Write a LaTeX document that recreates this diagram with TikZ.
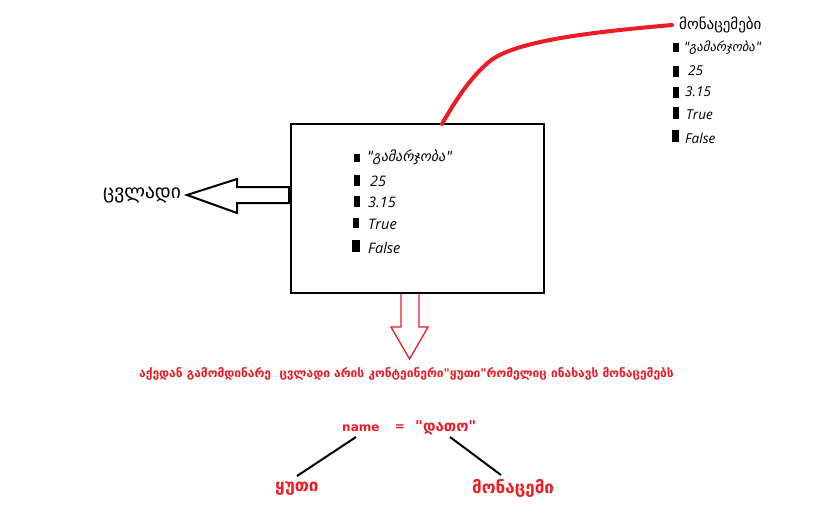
\documentclass[tikz,border=0pt]{standalone}
\usepackage{fontspec}
\setmainfont{Open Sans}
\newfontfamily\geo{DejaVu Sans}
\newfontfamily\geoit[FakeSlant=0.2]{DejaVu Sans}
\definecolor{myred}{RGB}{237,28,36}
\tikzset{
  lbl/.style={inner sep=0pt, anchor=west},
  itm/.style={lbl, font=\fontsize{14.5}{16}\selectfont\itshape},
  ritm/.style={lbl, font=\fontsize{13.6}{15}\selectfont\itshape},
  gitm/.style={lbl, font=\fontsize{14}{16}\selectfont\geoit},
  rgitm/.style={lbl, font=\fontsize{12.7}{15}\selectfont\geoit},
  bul/.style={fill=black},
  redtxt/.style={inner sep=0pt, text=myred, font=\fontsize{12}{14}\selectfont\geo\bfseries},
  conn/.style={line width=2pt},
}
\begin{document}
\begin{tikzpicture}[x=1pt,y=-1pt]
\useasboundingbox[fill=white] (0,0) rectangle (826,522);
% main box
\draw[line width=2pt] (291,124) rectangle (544,293);
\coordinate (boxtop) at (442,124);
% bullets in box
\fill[bul] (354,154) rectangle (360,162);
\fill[bul] (354,175) rectangle (360,186);
\fill[bul] (354,196) rectangle (360,207);
\fill[bul] (353,218) rectangle (359,228);
\fill[bul] (352,240) rectangle (360,252);
\node[gitm] (b1) at (366,157) {"გამარჯობა"};
\node[itm] (b2) at (370,181) {25};
\node[itm] (b3) at (368,202) {3.15};
\node[itm] (b4) at (368,224) {True};
\node[itm] (b5) at (368,248) {False};
% left hollow arrow
\draw[line width=2pt, line join=miter] (290,187) -- (237,187) -- (237,179) -- (187,195) -- (237,213) -- (237,203) -- (290,203);
\draw[line width=4pt] (290,187) -- (290,203);
\node[lbl, font=\fontsize{19.5}{22}\selectfont\geo] (var) at (103,195) {ცვლადი};
% down red hollow arrow
\draw[myred, line width=1.3pt, line join=miter] (401,294) -- (401,327) -- (391,327) -- (409.5,359) -- (428,327) -- (419,327) -- (419,294);
\node[redtxt, anchor=west] (sent) at (139,374) {აქედან გამომდინარე\ \ ცვლადი არის კონტეინერი"ყუთი"რომელიც ინახავს მონაცემებს};
% red curve to data list
\coordinate (dataend) at (672,25);
\draw[myred, line width=4pt, line cap=round] (boxtop) .. controls (458,96) and (472,76) .. (490,61) .. controls (515,42) and (580,33) .. (dataend);
\node[lbl, font=\fontsize{15}{17}\selectfont\geo] (data) at (679,25) {მონაცემები};
\fill[bul] (673,43) rectangle (679,52);
\fill[bul] (673,66) rectangle (679,77);
\fill[bul] (673,87) rectangle (679,98);
\fill[bul] (673,107) rectangle (679,119);
\fill[bul] (672,130) rectangle (679,142);
\node[rgitm] (r1) at (683,48) {"გამარჯობა"};
\node[ritm] (r2) at (688,71) {25};
\node[ritm] (r3) at (685,92) {3.15};
\node[ritm] (r4) at (686,115) {True};
\node[ritm] (r5) at (685,138) {False};
% name = "დათო"
\node[redtxt, anchor=west] (name) at (342,428) {name};
\node[redtxt] (eq) at (400,428) {=};
\node[redtxt, font=\fontsize{15}{17}\selectfont\geo\bfseries, anchor=west] (val) at (415,428) {"დათო"};
\node[redtxt, font=\fontsize{17}{19}\selectfont\geo\bfseries, anchor=west] (box2) at (275,488) {ყუთი};
\node[redtxt, font=\fontsize{17}{19}\selectfont\geo\bfseries, anchor=west] (dat2) at (472,488) {მონაცემი};
\coordinate (l1a) at (356,437);
\coordinate (l1b) at (297,476);
\coordinate (l2a) at (450,437);
\coordinate (l2b) at (501,475);
\draw[conn] (l1a) -- (l1b);
\draw[conn] (l2a) -- (l2b);
\end{tikzpicture}
\end{document}
